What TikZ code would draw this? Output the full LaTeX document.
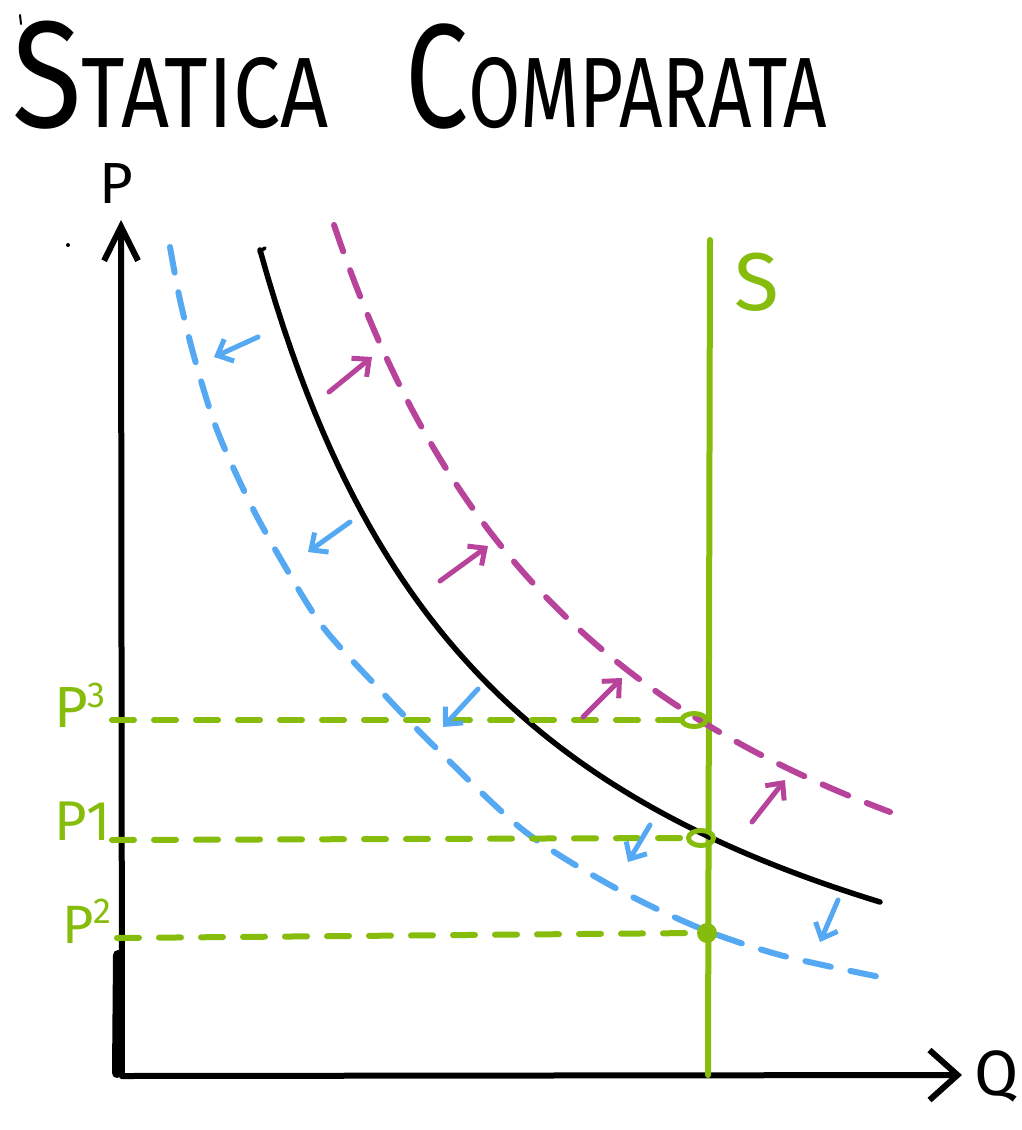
\documentclass[tikz,border=0pt]{standalone}
\usepackage{fontspec}
\usepackage{graphicx}
\setmainfont{Fira Sans}
\usetikzlibrary{arrows.meta,shapes.geometric}
\definecolor{sgreen}{HTML}{86BC0C}
\definecolor{dblue}{HTML}{55A8F2}
\definecolor{dmag}{HTML}{B8439A}
\tikzset{
  axisline/.style={draw=black,line width=6pt,line cap=round,line join=round},
  demand/.style={draw=black,line width=5.5pt,line cap=round},
  bluedash/.style={draw=dblue,line width=6pt,line cap=round,dash pattern=on 26pt off 20pt},
  magdash/.style={draw=dmag,line width=6pt,line cap=round,dash pattern=on 28pt off 20pt},
  greendash/.style={draw=sgreen,line width=6pt,line cap=round,dash pattern=on 22pt off 20pt},
  supply/.style={draw=sgreen,line width=6pt,line cap=round},
  barrow/.style={draw=dblue,line width=5pt,line cap=round,line join=round,-{Straight Barb[length=13pt,width=24pt]}},
  marrow/.style={draw=dmag,line width=5pt,line cap=round,line join=round,-{Straight Barb[length=13pt,width=24pt]}},
  glabel/.style={text=sgreen,inner sep=0pt,anchor=base west},
  klabel/.style={text=black,inner sep=0pt,anchor=base west},
}
\newcommand{\supfig}[1]{{\fontsize{36}{36}\selectfont\raisebox{20pt}{#1}}}
\begin{document}
\begin{tikzpicture}[x=1pt,y=-1pt]
\useasboundingbox (0,0) rectangle (1022,1130);
% title
\node[klabel] (t1) at (12,127) {\scalebox{0.84}[1]{\fontsize{152}{152}\selectfont S\fontsize{100}{100}\selectfont TATICA}};
\node[klabel] (t2) at (405,127) {\scalebox{0.76}[1]{\fontsize{148}{148}\selectfont C\fontsize{100}{100}\selectfont OMPARATA}};
\draw[line width=2pt,line cap=round] (20,15) -- (21,24);
\fill (68,245) circle (2pt);
% axes
\coordinate (O) at (122,1076);
\coordinate (Ptip) at (121,220);
\coordinate (Qtip) at (962,1075);
\draw[axisline,-{Straight Barb[length=34pt,width=34pt]}] (O) -- (Ptip);
\draw[axisline,-{Straight Barb[length=28pt,width=50pt]}] (O) -- (Qtip);
\draw[line width=10pt,line cap=round] (118,955) -- (117,1073);
\node[klabel,font=\fontsize{58}{58}\selectfont] (Plab) at (99,203) {P};
\node[klabel,font=\fontsize{64}{64}\selectfont] (Qlab) at (974,1095) {Q};
% supply
\coordinate (Stop) at (710,240);
\coordinate (Sbot) at (708,1075);
\draw[supply] (Stop) -- (Sbot);
\node[glabel,font=\fontsize{82}{82}\selectfont] (Slab) at (734,310) {S};
% demand curves
\draw[demand] plot[domain=260:880,samples=80] (\x,{1170.7-2352.5/((\x-4.5)/100)});
\draw[demand,line width=3.5pt] (259,252) -- (265,248);
\draw[magdash] plot[domain=334:890,samples=80] (\x,{1136.5-2802/((\x-26.6)/100)});
\draw[bluedash] plot[smooth] coordinates {(170,247) (180,300) (195,360) (217,430) (250,503) (283,563) (323,627) (380,690) (433,745) (523,830) (610,885) (697,927) (780,955) (880,977)};
% equilibrium points
\node[draw=sgreen,line width=5pt,ellipse,minimum width=24pt,minimum height=13pt,inner sep=0pt] (e3) at (694,720) {};
\node[draw=sgreen,line width=5pt,ellipse,minimum width=25pt,minimum height=15pt,inner sep=0pt] (e1) at (701,838) {};
\node[fill=sgreen,circle,minimum size=20pt,inner sep=0pt] (e2) at (707,933) {};
% price lines
\coordinate (p3s) at (112,720);
\coordinate (p1s) at (112,840);
\coordinate (p2s) at (117,938);
\draw[greendash] (p3s) -- (e3.west);
\draw[greendash] (p1s) -- (e1.west);
\draw[greendash] (p2s) -- (e2.west);
\node[glabel,font=\fontsize{58}{58}\selectfont] (p3lab) at (54,727) {P\supfig{3}};
\node[glabel,font=\fontsize{56}{56}\selectfont] (p1lab) at (54,840) {P1};
\node[glabel,font=\fontsize{54}{54}\selectfont] (p2lab) at (62,943) {P\supfig{2}};
% shift arrows (blue: leftward shift)
\coordinate (b1s) at (258,337); \coordinate (b1e) at (214,357);
\coordinate (b2s) at (350,522); \coordinate (b2e) at (308,552);
\coordinate (b3s) at (478,689); \coordinate (b3e) at (443,727);
\coordinate (b4s) at (650,825); \coordinate (b4e) at (628,862);
\coordinate (b5s) at (838,900); \coordinate (b5e) at (820,942);
\draw[barrow] (b1s) -- (b1e);
\draw[barrow] (b2s) -- (b2e);
\draw[barrow] (b3s) -- (b3e);
\draw[barrow] (b4s) -- (b4e);
\draw[barrow] (b5s) -- (b5e);
% shift arrows (magenta: rightward shift)
\coordinate (m1s) at (329,392); \coordinate (m1e) at (372,357);
\coordinate (m2s) at (440,581); \coordinate (m2e) at (488,546);
\coordinate (m3s) at (583,717); \coordinate (m3e) at (622,678);
\coordinate (m4s) at (752,822); \coordinate (m4e) at (785,780);
\draw[marrow] (m1s) -- (m1e);
\draw[marrow] (m2s) -- (m2e);
\draw[marrow] (m3s) -- (m3e);
\draw[marrow] (m4s) -- (m4e);
\end{tikzpicture}
\end{document}
